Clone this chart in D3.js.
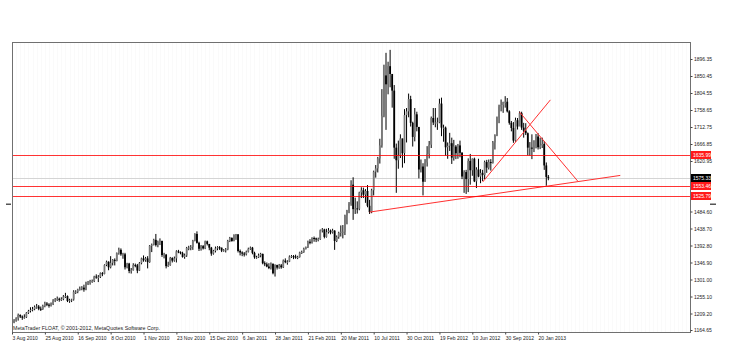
<!DOCTYPE html>
<html><head><meta charset="utf-8">
<script src="https://cdn.jsdelivr.net/npm/d3@7"></script>
<style>
html,body{margin:0;padding:0;background:#fff;}
svg{display:block;font-family:"Liberation Sans",Arial,sans-serif;}
</style></head>
<body>
<svg id="c" width="729" height="356"></svg>
<script>
// ---- data ----
const firstOpen = 1182;
const closes = [
1185,1190,1196,1205,1201,1198,1199,1211,1216,1219,1221,1227,1228,1222,1221,1230,1236,1233,1230,1235,1244,
1247,1249,1246,1248,1255,1256,1243,1245,1247,1268,1268,1274,1276,1279,1274,1292,1292,1297,1297,1309,1308,1308,
1318,1316,1340,1349,1334,1346,1354,1351,1372,1381,1369,1369,1334,1344,1324,1326,1340,1339,1325,1345,1358,
1353,1358,1348,1392,1395,1408,1394,1403,1405,1367,1368,1337,1340,1359,1352,1358,1377,1375,1372,1362,1366,1386,
1387,1389,1406,1424,1400,1384,1391,1385,1404,1397,1387,1371,1378,1385,1388,1387,1379,1380,1382,1405,1413,1405,1421,
1423,1378,1374,1371,1369,1376,1384,1387,1373,1361,1361,1366,1370,1345,1342,1336,1332,1344,1318,1340,1333,
1339,1334,1352,1348,1349,1363,1364,1363,1360,1362,1374,1375,1384,1388,1403,1400,1413,1412,1409,1410,
1434,1436,1416,1429,1433,1428,1433,1405,1416,1427,
1430,1430,1474,1486,1505,1557,1491,1493,1492,1536,
1542,1530,1540,1500,1483,1542,1592,1601,1628,1663,
1743,1852,1828,1877,1856,1811,1657,1623,1636,1682,
1642,1745,1755,1788,1724,1686,1747,1713,1598,1606,
1565,1617,1640,1665,1737,1725,1725,1725,1776,1711,
1711,1658,1662,1669,1630,1660,1642,1663,1643,1579,
1591,1572,1621,1596,1627,1566,1598,1579,1589,1583,
1618,1603,1618,1616,1671,1690,1738,1768,1772,1780,
1781,1755,1724,1710,1676,1731,1714,1750,1711,1703,
1696,1657,1657,1656,1662,1687,1658,1663,1667,1609,
1578,1575.33];
const highs = [
1191,1194,1199,1209,1207,1204,1207,1213,1219,1226,1227,1231,1235,1232,1228,1233,1241,1240,1237,1239,1248,
1251,1255,1252,1253,1259,1265,1258,1249,1249,1272,1272,1276,1282,1283,1287,1295,1297,1300,1301,1311,1315,1313,
1320,1321,1342,1352,1350,1364,1356,1358,1374,1387,1385,1373,1373,1346,1346,1332,1345,1344,1343,1348,1360,
1366,1362,1364,1394,1398,1411,1424,1406,1412,1406,1373,1370,1349,1362,1361,1363,1380,1381,1377,1376,1371,1389,
1392,1394,1408,1426,1431,1403,1394,1394,1406,1406,1397,1389,1381,1390,1391,1391,1387,1383,1386,1408,1416,1415,1423,
1424,1423,1382,1377,1375,1379,1387,1390,1389,1376,1365,1371,1373,1371,1350,1347,1345,1347,1343,1342,1341,
1343,1343,1355,1358,1353,1366,1367,1367,1368,1365,1376,1379,1387,1390,1406,1410,1415,1417,1414,1414,
1436,1440,1438,1438,1440,1436,1438,1434,1420,1430,
1447,1448,1476,1489,1510,1569,1577,1522,1512,1538,
1550,1549,1545,1556,1516,1546,1595,1610,1632,1681,
1815,1881,1913,1889,1921,1851,1826,1668,1676,1693,
1681,1761,1764,1803,1797,1727,1764,1754,1712,1625,
1615,1626,1661,1675,1741,1764,1764,1738,1789,1792,
1719,1714,1671,1697,1684,1678,1664,1667,1676,1645,
1596,1597,1628,1640,1628,1630,1604,1627,1599,1597,
1622,1624,1625,1626,1675,1693,1741,1773,1787,1781,
1796,1791,1758,1729,1726,1738,1737,1755,1754,1724,
1723,1698,1672,1693,1677,1694,1696,1684,1684,1675,
1617,1583];
const lows = [
1180,1183,1187,1190,1197,1192,1195,1197,1208,1212,1215,1218,1222,1218,1216,1219,1226,1229,1225,1228,1232,
1240,1243,1241,1243,1245,1251,1240,1238,1240,1244,1262,1264,1271,1272,1268,1272,1286,1287,1292,1294,1303,1294,
1305,1310,1315,1337,1326,1331,1339,1339,1350,1368,1365,1357,1328,1331,1318,1317,1325,1334,1318,1324,1342,
1349,1349,1331,1346,1375,1393,1390,1388,1394,1362,1358,1331,1335,1338,1347,1349,1347,1372,1369,1360,1357,1362,
1380,1380,1381,1404,1398,1378,1379,1382,1383,1393,1380,1365,1368,1374,1380,1381,1375,1376,1374,1380,1402,1403,1404,
1408,1374,1366,1364,1363,1366,1374,1381,1369,1357,1357,1359,1361,1342,1337,1334,1329,1328,1315,1309,1328,
1330,1330,1332,1345,1341,1348,1359,1356,1357,1356,1360,1370,1373,1382,1386,1396,1398,1403,1402,1404,
1408,1428,1412,1414,1425,1423,1425,1381,1402,1411,
1417,1412,1421,1450,1480,1500,1462,1478,1479,1488,
1521,1521,1508,1496,1478,1480,1528,1576,1590,1614,
1657,1739,1705,1801,1820,1765,1627,1535,1600,1629,
1603,1615,1671,1739,1714,1660,1674,1701,1574,1590,
1528,1565,1606,1628,1656,1718,1712,1705,1723,1688,
1673,1635,1627,1648,1613,1622,1626,1627,1631,1572,
1535,1532,1537,1557,1581,1564,1548,1577,1561,1567,
1572,1589,1598,1595,1614,1652,1688,1723,1755,1751,
1765,1752,1719,1701,1670,1673,1706,1727,1705,1684,
1691,1636,1635,1626,1645,1655,1652,1653,1656,1597,
1554,1569];

const xTickBars = [0,16,32,48,64,80,96,112,128,144,160,176,192,208,224,240,256];
const xTickLabels = ["3 Aug 2010","25 Aug 2010","16 Sep 2010","8 Oct 2010","1 Nov 2010","23 Nov 2010",
  "15 Dec 2010","6 Jan 2011","28 Jan 2011","21 Feb 2011","20 Mar 2011","10 Jul 2011","30 Oct 2011",
  "19 Feb 2012","10 Jun 2012","30 Sep 2012","20 Jan 2013"];
const yTickValues = [1896.35,1850.45,1804.55,1758.65,1712.75,1666.85,1620.95,1484.60,1438.70,1392.80,1346.90,1301.00,1255.10,1209.20,1164.65];

const levelLines = [1635.99, 1553.46, 1525.79];
const bidPrice = 1575.33;
// trendlines: [barIndex, price] pairs
const trendSupport = [[174, 1483], [296, 1582]];
const trendRise    = [[229, 1564], [262, 1786]];
const trendFall    = [[247, 1753], [275.4, 1566]];

const copyright = "MetaTrader FLOAT, \u00A9 2001-2012, MetaQuotes Software Corp.";

// ---- layout ----
const L = 12, R = 690, T = 42, B = 332;
const svg = d3.select("#c");
const x = d3.scaleLinear().domain([0, 16]).range([12, 12 + 16 * 2.055]);
const y = d3.scaleLinear().domain([1164.65, 1896.35]).range([330, 59]);

// very faint background stripes
const stripes = d3.range(0, 330, 2);
svg.append("g").selectAll("rect").data(stripes).join("rect")
  .attr("x", d => Math.round(x(d))).attr("width", 1)
  .attr("y", T).attr("height", B - T)
  .attr("fill", "#fafafa");

svg.append("clipPath").attr("id", "pc").append("rect")
  .attr("x", L).attr("y", T).attr("width", R - L).attr("height", B - T);

const plot = svg.append("g").attr("clip-path", "url(#pc)");

// bid line
plot.append("rect").attr("x", L).attr("width", R - L)
  .attr("y", Math.round(y(bidPrice))).attr("height", 1)
  .attr("fill", "#d4d4d4");

// candles
const bars = closes.map((c, i) => ({
  i, o: i === 0 ? firstOpen : closes[i - 1], c, h: highs[i], l: lows[i]
}));
const cg = plot.append("g");
cg.selectAll("line").data(bars).join("line")
  .attr("x1", d => x(d.i)).attr("x2", d => x(d.i))
  .attr("y1", d => y(d.h)).attr("y2", d => y(d.l))
  .attr("stroke", "#000").attr("stroke-width", 1);
cg.selectAll("rect").data(bars).join("rect")
  .attr("x", d => x(d.i) - 0.9).attr("width", 1.8)
  .attr("y", d => y(Math.max(d.o, d.c)))
  .attr("height", d => Math.max(1, Math.abs(y(d.o) - y(d.c))))
  .attr("fill", d => d.c >= d.o ? "#7a7a7a" : "#000");

// frame
svg.append("rect").attr("x", L + 0.5).attr("y", T + 0.5).attr("width", R - L).attr("height", B - T)
  .attr("fill", "none").attr("stroke", "#707070").attr("stroke-width", 1);

// trend lines
const tl = svg.append("g").attr("clip-path", "url(#pc)");
tl.selectAll("line").data([trendSupport, trendRise, trendFall]).join("line")
  .attr("x1", d => x(d[0][0])).attr("y1", d => y(d[0][1]))
  .attr("x2", d => x(d[1][0])).attr("y2", d => y(d[1][1]))
  .attr("stroke", "#ff3030").attr("stroke-width", 1);

// y axis
const ya = svg.append("g").attr("transform", `translate(${R + 0.5},0)`)
  .call(d3.axisRight(y).tickValues(yTickValues).tickSize(2).tickPadding(1.5).tickFormat(d3.format(".2f")));
ya.select(".domain").remove();
ya.selectAll("line").attr("stroke", "#444");
ya.selectAll("text").attr("font-size", 5).attr("fill", "#222").attr("font-family", "Liberation Sans, Arial, sans-serif");

// price labels
const tags = levelLines.map(v => ({ v, bg: "#ff1a1a" })).concat([{ v: bidPrice, bg: "#000" }]);
const tg = svg.append("g").selectAll("g").data(tags).join("g")
  .attr("transform", d => `translate(${R + 1},${Math.round(y(d.v))})`);
tg.append("rect").attr("x", 0).attr("y", -4).attr("width", 20).attr("height", 8).attr("fill", d => d.bg);
tg.append("text").attr("x", 2).attr("y", 1.8).attr("font-size", 5).attr("fill", "#fff")
  .text(d => d3.format(".2f")(d.v));

// x axis
const xa = svg.append("g").attr("transform", `translate(0,${B + 0.5})`)
  .call(d3.axisBottom(x).tickValues(xTickBars).tickSize(2).tickPadding(1.5)
    .tickFormat((d, i) => xTickLabels[i]));
xa.select(".domain").remove();
xa.selectAll("line").attr("stroke", "#444");
xa.selectAll("text").attr("text-anchor", "start").attr("font-size", 5).attr("fill", "#222")
  .attr("font-family", "Liberation Sans, Arial, sans-serif");

// copyright
svg.append("text").attr("x", 13).attr("y", 329.5).attr("font-size", 5.3).attr("fill", "#222").text(copyright);

// small markers at window edges
svg.append("rect").attr("x", 6).attr("y", 203.5).attr("width", 5).attr("height", 1.5).attr("fill", "#555");
svg.append("rect").attr("x", 710).attr("y", 203.5).attr("width", 6).attr("height", 1.5).attr("fill", "#555");

// level lines, drawn last
const lg = svg.append("g");
lg.selectAll("rect.lvl").data(levelLines).join("rect").attr("class", "lvl")
  .attr("x", L + 1).attr("width", R - L - 1)
  .attr("y", d => Math.round(y(d))).attr("height", 1)
  .attr("fill", "#ff0000").attr("fill-opacity", 0.8);
</script>
</body></html>
